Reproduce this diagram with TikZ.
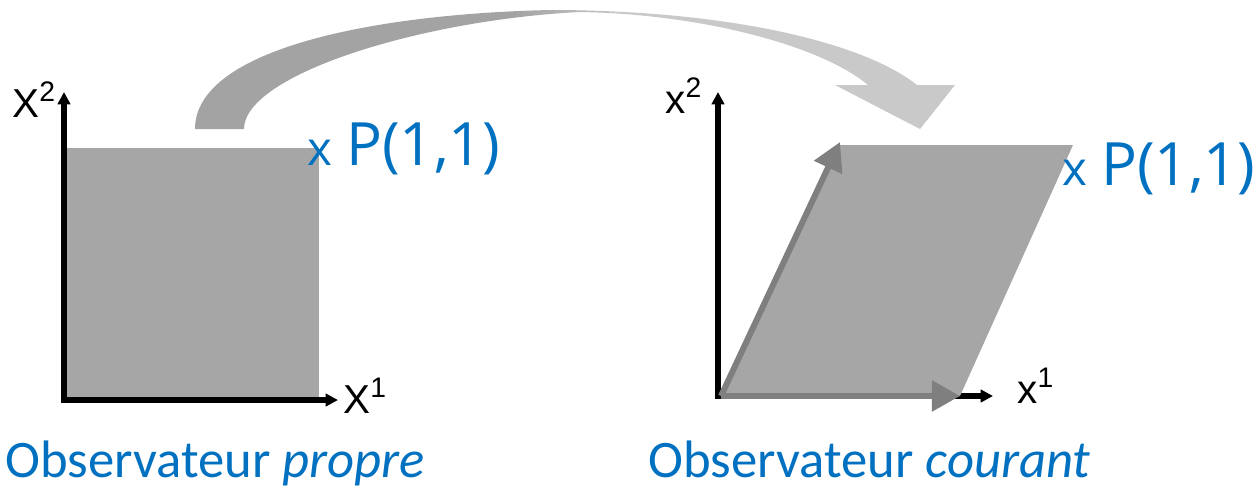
\documentclass[tikz,border=0pt]{standalone}
\usepackage{fontspec}
\setmainfont{Carlito}
\newfontfamily\axisfont{Liberation Sans}
\newfontfamily\pointfont{Open Sans}
\usetikzlibrary{arrows.meta}
\definecolor{refblue}{HTML}{0070C0}
\definecolor{areagrey}{HTML}{A6A6A6}
\definecolor{vecgrey}{HTML}{7F7F7F}
\definecolor{arcdark}{HTML}{A3A3A3}
\definecolor{arclight}{HTML}{C9C9C9}
\pgfdeclarehorizontalshading{arcshade}{100bp}{color(0bp)=(arcdark); color(46bp)=(arcdark); color(53bp)=(arclight); color(100bp)=(arclight)}

\begin{document}
\begin{tikzpicture}[x=0.02cm, y=-0.02cm,
  axis/.style={line width=2.9pt, line join=miter, {Triangle[length=7pt,width=7pt]}-{Triangle[length=7pt,width=7pt]}},
  vec/.style={draw=vecgrey, line width=3.4pt, -{Triangle[length=16pt,width=17pt]}},
  axislabel/.style={inner sep=0, anchor=base west, font=\axisfont\fontsize{23}{27}\selectfont},
  pointlabel/.style={inner sep=0, anchor=base west, text=refblue},
  title/.style={inner sep=0, anchor=base west, text=refblue, font=\fontsize{30}{36}\selectfont}]

\useasboundingbox (0,0) rectangle (1253,491);

% Curved arrow between the two frames
\shade[shading=arcshade]
  (195,129) .. controls (195,50) and (370,14) .. (550,10)
  .. controls (720,10) and (860,40) .. (917,85)
  -- (955,85) -- (920,129) -- (835,85) -- (868,85)
  .. controls (820,45) and (700,14) .. (580,12)
  .. controls (420,20) and (244,75) .. (244,129) -- cycle;

% Left frame (proper observer)
\coordinate (oL) at (64,400);
\coordinate (x1L) at (338,400);
\coordinate (x2L) at (64,92);
\fill[areagrey] (67,148) rectangle (319,397);
\draw[axis] (x2L) -- (oL) -- (x1L);
\node[axislabel] (lX2) at (12,117) {X\textsuperscript{2}};
\node[axislabel] (lX1) at (343,413) {X\textsuperscript{1}};
\node[pointlabel] (pL) at (307,165) {{\pointfont\fontsize{27}{30}\selectfont x}\hspace{8pt}{\pointfont\fontsize{34}{40}\selectfont P(1,1)}};

% Right frame (current observer)
\coordinate (oR) at (718,396);
\coordinate (x1R) at (993,396);
\coordinate (x2R) at (718,92);
\draw[axis] (x2R) -- (oR) -- (x1R);
\coordinate (p0) at (721,396);
\coordinate (p1) at (960,396);
\coordinate (p2) at (1073,145);
\coordinate (p3) at (840,145);
\fill[areagrey] (p0) -- (p1) -- (p2) -- (p3) -- cycle;
\coordinate (e2) at (840,142);
\draw[vec] (p0) -- (e2);
\draw[vec] (p0) -- (p1);
\node[axislabel] (rx2) at (665,113) {x\textsuperscript{2}};
\node[axislabel] (rx1) at (1017,403) {x\textsuperscript{1}};
\node[pointlabel] (pR) at (1062,185) {{\pointfont\fontsize{27}{30}\selectfont x}\hspace{8pt}{\pointfont\fontsize{34}{40}\selectfont P(1,1)}};

% Titles
\node[title] (tL) at (5,477) {Observateur \textit{propre}};
\node[title] (tR) at (648,477) {Observateur \textit{courant}};

\end{tikzpicture}
\end{document}
